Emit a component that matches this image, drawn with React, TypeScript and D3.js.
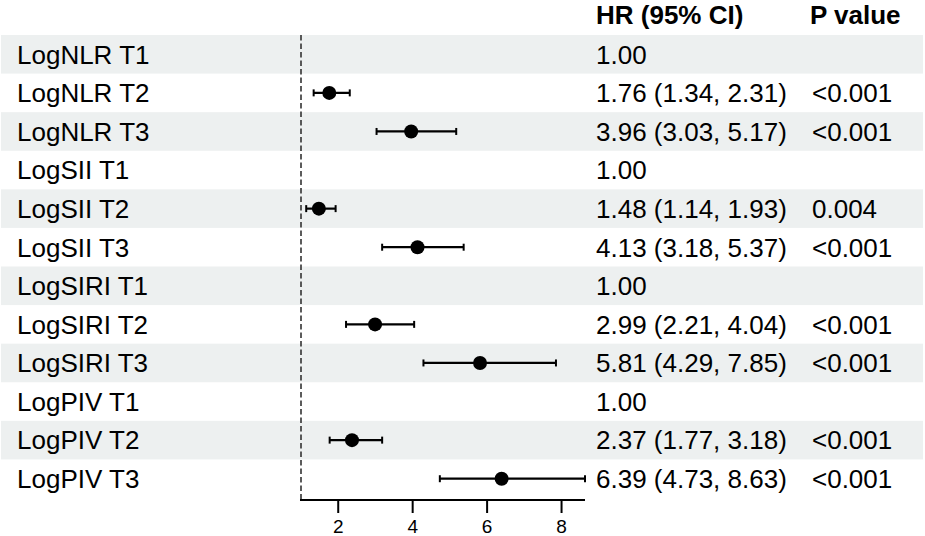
import React from "react";
import * as d3 from "d3";

const labels = [
  "LogNLR T1", "LogNLR T2", "LogNLR T3",
  "LogSII T1", "LogSII T2", "LogSII T3",
  "LogSIRI T1", "LogSIRI T2", "LogSIRI T3",
  "LogPIV T1", "LogPIV T2", "LogPIV T3",
];
const hr: (number | null)[] = [null, 1.76, 3.96, null, 1.48, 4.13, null, 2.99, 5.81, null, 2.37, 6.39];
const lower: (number | null)[] = [null, 1.34, 3.03, null, 1.14, 3.18, null, 2.21, 4.29, null, 1.77, 4.73];
const upper: (number | null)[] = [null, 2.31, 5.17, null, 1.93, 5.37, null, 4.04, 7.85, null, 3.18, 8.63];
const hrText = [
  "1.00", "1.76 (1.34, 2.31)", "3.96 (3.03, 5.17)",
  "1.00", "1.48 (1.14, 1.93)", "4.13 (3.18, 5.37)",
  "1.00", "2.99 (2.21, 4.04)", "5.81 (4.29, 7.85)",
  "1.00", "2.37 (1.77, 3.18)", "6.39 (4.73, 8.63)",
];
const pText = ["", "<0.001", "<0.001", "", "0.004", "<0.001", "", "<0.001", "<0.001", "", "<0.001", "<0.001"];
const xTicks = [2, 4, 6, 8];
const headers = ["HR (95% CI)", "P value"];

const W = 925;
const H = 536;
const FONT = "'Liberation Sans', Arial, Helvetica, sans-serif";

export default function App() {
  const x = d3.scaleLinear().domain([1, 8.63]).range([301, 585]);
  const y = d3.scaleBand<string>().domain(labels).range([35, 498]).padding(0);
  const bw = y.bandwidth();
  const axisY = 500;
  const fs = 26;

  return (
    <svg width={W} height={H} style={{ position: "absolute", left: 0, top: 0, background: "#fff" }}>
      {labels.map((l, i) =>
        i % 2 === 0 ? (
          <rect key={"bg" + i} x={1} y={y(l)!} width={922} height={bw} fill="#edf0f0" />
        ) : null
      )}
      {/* headers */}
      <text x={596} y={23.5} fontFamily={FONT} fontSize={fs} fontWeight="bold" fill="#000">{headers[0]}</text>
      <text x={810} y={23.5} fontFamily={FONT} fontSize={fs} fontWeight="bold" fill="#000">{headers[1]}</text>
      {labels.map((l, i) => {
        const cy = y(l)! + bw / 2;
        return (
          <g key={l}>
            <text x={17} y={cy + 9.3} fontFamily={FONT} fontSize={fs} fill="#000">{l}</text>
            <text x={596} y={cy + 9.3} fontFamily={FONT} fontSize={fs} fill="#000">{hrText[i]}</text>
            <text x={812} y={cy + 9.3} fontFamily={FONT} fontSize={fs} fill="#000">{pText[i]}</text>
            {hr[i] !== null && (
              <g>
                <line x1={x(lower[i]!)} x2={x(upper[i]!)} y1={cy} y2={cy} stroke="#000" strokeWidth={2.2} />
                <line x1={x(lower[i]!)} x2={x(lower[i]!)} y1={cy - 3.5} y2={cy + 3.5} stroke="#000" strokeWidth={2} />
                <line x1={x(upper[i]!)} x2={x(upper[i]!)} y1={cy - 3.5} y2={cy + 3.5} stroke="#000" strokeWidth={2} />
                <circle cx={x(hr[i]!)} cy={cy} r={7} fill="#000" />
              </g>
            )}
          </g>
        );
      })}
      {/* reference line */}
      <line x1={x(1)} x2={x(1)} y1={35} y2={axisY} stroke="#333" strokeWidth={1.6} strokeDasharray="5.5,3" />
      {/* axis */}
      <line x1={300} x2={x(8.63)} y1={axisY} y2={axisY} stroke="#000" strokeWidth={2} />
      {xTicks.map((t) => (
        <g key={t}>
          <line x1={x(t)} x2={x(t)} y1={axisY} y2={axisY + 13} stroke="#000" strokeWidth={2} />
          <text x={x(t)} y={533} textAnchor="middle" fontFamily={FONT} fontSize={19} fill="#000">{t}</text>
        </g>
      ))}
    </svg>
  );
}
